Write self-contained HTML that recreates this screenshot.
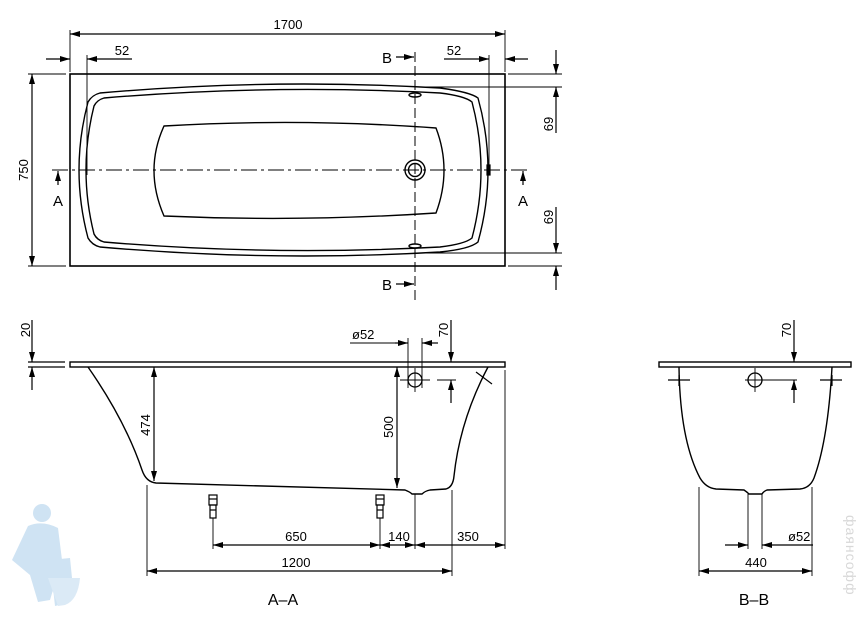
<!DOCTYPE html>
<html><head><meta charset="utf-8"><style>
html,body{margin:0;padding:0;background:#fff;}
svg{display:block;}
text{font-family:"Liberation Sans Narrow","Liberation Sans",sans-serif;font-size:13px;fill:#000;}
</style></head><body>
<svg width="863" height="620" viewBox="0 0 863 620" xmlns="http://www.w3.org/2000/svg">
<defs>
<marker id="a" viewBox="0 0 10 6" refX="10" refY="3" markerWidth="10" markerHeight="6" orient="auto-start-reverse" markerUnits="userSpaceOnUse">
<path d="M0,0 L10,3 L0,6 Z" fill="#000"/></marker>
</defs>
<!-- watermark figure -->
<g fill="#cfe3f3" stroke="none">
<circle cx="42" cy="513" r="9"/>
<path d="M28,526 Q42,520 58,528 L62,560 L50,600 L38,602 L30,575 L12,560 Z"/>
<path d="M50,560 L70,558 L72,578 Q65,605 55,606 Z"/>
<path d="M48,578 L80,578 Q78,600 65,605 L58,606 Z" fill="#dbeaf6"/>
</g>
<text x="0" y="0" transform="translate(846,515) rotate(90)" style="fill:#d8d8d8;font-size:14px;letter-spacing:1px">фаянсофф</text>

<g fill="none" stroke="#000" stroke-width="1.2">
<!-- ===== TOP VIEW ===== -->
<rect x="70" y="74" width="435" height="192" stroke-width="1.6"/>
<!-- 1700 -->
<line x1="70" y1="30" x2="70" y2="72" stroke-width="0.9"/>
<line x1="505" y1="30" x2="505" y2="72" stroke-width="0.9"/>
<line x1="70" y1="34" x2="505" y2="34" marker-start="url(#a)" marker-end="url(#a)"/>
<!-- 52 left -->
<line x1="87" y1="55" x2="87" y2="175" stroke-width="0.9"/>
<line x1="46" y1="59" x2="70" y2="59" marker-end="url(#a)"/>
<line x1="132" y1="59" x2="87" y2="59" marker-end="url(#a)"/>
<!-- 52 right -->
<line x1="489" y1="55" x2="489" y2="175" stroke-width="0.9"/>
<line x1="444" y1="59" x2="489" y2="59" marker-end="url(#a)"/>
<line x1="528" y1="59" x2="505" y2="59" marker-end="url(#a)"/>
<!-- 750 -->
<line x1="28" y1="74" x2="66" y2="74" stroke-width="0.9"/>
<line x1="28" y1="266" x2="66" y2="266" stroke-width="0.9"/>
<line x1="32" y1="74" x2="32" y2="266" marker-start="url(#a)" marker-end="url(#a)"/>
<!-- 69 dims right -->
<line x1="508" y1="74" x2="562" y2="74" stroke-width="0.9"/>
<line x1="418" y1="87" x2="562" y2="87" stroke-width="0.9"/>
<line x1="418" y1="253" x2="562" y2="253" stroke-width="0.9"/>
<line x1="508" y1="266" x2="562" y2="266" stroke-width="0.9"/>
<line x1="556" y1="50" x2="556" y2="74" marker-end="url(#a)"/>
<line x1="556" y1="133" x2="556" y2="87" marker-end="url(#a)"/>
<line x1="556" y1="207" x2="556" y2="253" marker-end="url(#a)"/>
<line x1="556" y1="290" x2="556" y2="266" marker-end="url(#a)"/>
<!-- centerline -->
<line x1="52" y1="170" x2="530" y2="170" stroke-dasharray="16,4,3,4" stroke-width="1"/>
<line x1="58" y1="185" x2="58" y2="171" marker-end="url(#a)"/>
<line x1="523" y1="185" x2="523" y2="171" marker-end="url(#a)"/>
<!-- B line -->
<line x1="415" y1="52" x2="415" y2="300" stroke-dasharray="10,4" stroke-width="1"/>
<line x1="396" y1="57" x2="414" y2="57" marker-end="url(#a)"/>
<line x1="396" y1="284" x2="414" y2="284" marker-end="url(#a)"/>
<!-- tub outline -->
<path d="M100,93 Q270,78 440,88 Q470,92 478,98 Q498,170 478,242 Q470,249 440,252 Q270,262 100,247 Q92,245 88,238 Q70,170 88,102 Q92,95 100,93 Z" stroke-width="1.4"/>
<path d="M104,98 Q270,84 440,93 Q465,96 472,102 Q490,170 472,238 Q465,244 440,247 Q270,256 104,242 Q97,240 94,234 Q78,170 94,106 Q97,100 104,98 Z" stroke-width="1.4"/>
<!-- basin -->
<path d="M164,126 Q300,118 436,128 Q452,170 436,213 Q300,222 164,216 Q144,170 164,126 Z" stroke-width="1.4"/>
<circle cx="415" cy="170" r="10" stroke-width="1.4"/>
<circle cx="415" cy="170" r="6.5" stroke-width="1.4"/>
<ellipse cx="415" cy="95" rx="6" ry="2" stroke-width="1.4"/>
<ellipse cx="415" cy="246" rx="6" ry="2" stroke-width="1.4"/>
<rect x="487" y="165" width="3" height="10" fill="#000"/>

<!-- ===== SECTION A-A ===== -->
<rect x="70" y="362" width="435" height="5" stroke-width="1.4"/>
<line x1="28" y1="362" x2="65" y2="362" stroke-width="1.2"/>
<line x1="28" y1="367" x2="65" y2="367" stroke-width="1.2"/>
<line x1="32" y1="320" x2="32" y2="362" marker-end="url(#a)"/>
<line x1="32" y1="390" x2="32" y2="367" marker-end="url(#a)"/>
<path d="M88,367 Q125,420 142,470 Q146,482 156,483 L405,490 Q410,492 412,494 L422,494 Q425,491 430,490 L446,489 Q453,487 454,476 Q460,420 488,367" stroke-width="1.4"/>
<line x1="476" y1="372" x2="492" y2="384" stroke-width="1.2"/>
<!-- 474 -->
<line x1="154" y1="367" x2="154" y2="481" marker-start="url(#a)" marker-end="url(#a)"/>
<!-- 500 -->
<line x1="397" y1="367" x2="397" y2="488" marker-start="url(#a)" marker-end="url(#a)"/>
<!-- phi52 -->
<line x1="350" y1="343" x2="408" y2="343" stroke-width="0.9"/>
<line x1="395" y1="343" x2="408" y2="343" marker-end="url(#a)"/>
<line x1="438" y1="343" x2="422" y2="343" marker-end="url(#a)"/>
<line x1="408" y1="338" x2="408" y2="388" stroke-width="0.9"/>
<line x1="422" y1="338" x2="422" y2="388" stroke-width="0.9"/>
<circle cx="415" cy="380" r="7" stroke-width="1.3"/>
<line x1="400" y1="380" x2="430" y2="380" stroke-width="0.9"/>
<line x1="415" y1="368" x2="415" y2="392" stroke-width="0.9"/>
<!-- 70 -->
<line x1="437" y1="380" x2="456" y2="380" stroke-width="0.9"/>
<line x1="451" y1="320" x2="451" y2="362" marker-end="url(#a)"/>
<line x1="451" y1="403" x2="451" y2="380" marker-end="url(#a)"/>
<!-- feet -->
<g stroke-width="1.2">
<rect x="209" y="495" width="8" height="10"/><rect x="210" y="505" width="6" height="13"/>
<line x1="209" y1="499" x2="217" y2="499"/><line x1="210" y1="510" x2="216" y2="510"/>
<rect x="376" y="495" width="8" height="10"/><rect x="377" y="505" width="6" height="13"/>
<line x1="376" y1="499" x2="384" y2="499"/><line x1="377" y1="510" x2="383" y2="510"/>
</g>
<line x1="213" y1="518" x2="213" y2="549" stroke-width="0.9"/>
<line x1="380" y1="518" x2="380" y2="549" stroke-width="0.9"/>
<line x1="415" y1="494" x2="415" y2="549" stroke-width="0.9"/>
<line x1="452" y1="490" x2="452" y2="576" stroke-width="0.9"/>
<line x1="505" y1="370" x2="505" y2="549" stroke-width="0.9"/>
<line x1="147" y1="485" x2="147" y2="576" stroke-width="0.9"/>
<line x1="213" y1="545" x2="380" y2="545" marker-start="url(#a)" marker-end="url(#a)"/>
<line x1="380" y1="545" x2="415" y2="545" marker-start="url(#a)" marker-end="url(#a)"/>
<line x1="415" y1="545" x2="505" y2="545" marker-start="url(#a)" marker-end="url(#a)"/>
<line x1="147" y1="571" x2="452" y2="571" marker-start="url(#a)" marker-end="url(#a)"/>

<!-- ===== SECTION B-B ===== -->
<rect x="659" y="362" width="192" height="5" stroke-width="1.4"/>
<path d="M679,367 Q680,440 700,478 Q706,488 716,489 L744,490 Q747,492 749,494 L762,494 Q764,491 767,490 L800,489 Q810,488 814,478 Q828,440 832,367" stroke-width="1.4"/>
<line x1="668" y1="380" x2="690" y2="380" stroke-width="1.2"/>
<line x1="820" y1="380" x2="842" y2="380" stroke-width="1.2"/>
<line x1="679" y1="375" x2="679" y2="386" stroke-width="1.2"/>
<line x1="832" y1="375" x2="832" y2="386" stroke-width="1.2"/>
<circle cx="755" cy="380" r="7" stroke-width="1.3"/>
<line x1="755" y1="368" x2="755" y2="392" stroke-width="0.9"/>
<line x1="745" y1="380" x2="797" y2="380" stroke-width="0.9"/>
<line x1="794" y1="320" x2="794" y2="362" marker-end="url(#a)"/>
<line x1="794" y1="403" x2="794" y2="380" marker-end="url(#a)"/>
<line x1="748" y1="494" x2="748" y2="549" stroke-width="0.9"/>
<line x1="762" y1="494" x2="762" y2="549" stroke-width="0.9"/>
<line x1="725" y1="545" x2="748" y2="545" marker-end="url(#a)"/>
<line x1="813" y1="545" x2="762" y2="545" marker-end="url(#a)"/>
<line x1="699" y1="487" x2="699" y2="576" stroke-width="0.9"/>
<line x1="812" y1="487" x2="812" y2="576" stroke-width="0.9"/>
<line x1="699" y1="571" x2="812" y2="571" marker-start="url(#a)" marker-end="url(#a)"/>
</g>

<!-- TEXT -->
<text x="288" y="29" text-anchor="middle">1700</text>
<text x="122" y="55" text-anchor="middle">52</text>
<text x="454" y="55" text-anchor="middle">52</text>
<text x="387" y="63" text-anchor="middle" style="font-size:15px">B</text>
<text x="387" y="290" text-anchor="middle" style="font-size:15px">B</text>
<text x="58" y="206" text-anchor="middle" style="font-size:15px">A</text>
<text x="523" y="206" text-anchor="middle" style="font-size:15px">A</text>
<text transform="translate(28,170) rotate(-90)" text-anchor="middle">750</text>
<text transform="translate(553,124) rotate(-90)" text-anchor="middle">69</text>
<text transform="translate(553,217) rotate(-90)" text-anchor="middle">69</text>
<text transform="translate(30,330) rotate(-90)" text-anchor="middle">20</text>
<text transform="translate(150,425) rotate(-90)" text-anchor="middle">474</text>
<text transform="translate(393,427) rotate(-90)" text-anchor="middle">500</text>
<text transform="translate(448,330) rotate(-90)" text-anchor="middle">70</text>
<text transform="translate(791,330) rotate(-90)" text-anchor="middle">70</text>
<text x="352" y="339">ø52</text>
<text x="296" y="541" text-anchor="middle">650</text>
<text x="399" y="541" text-anchor="middle">140</text>
<text x="468" y="541" text-anchor="middle">350</text>
<text x="296" y="567" text-anchor="middle">1200</text>
<text x="788" y="541">ø52</text>
<text x="756" y="567" text-anchor="middle">440</text>
<text x="283" y="605" text-anchor="middle" style="font-size:16px">A–A</text>
<text x="754" y="605" text-anchor="middle" style="font-size:16px">B–B</text>
</svg>
</body></html>
